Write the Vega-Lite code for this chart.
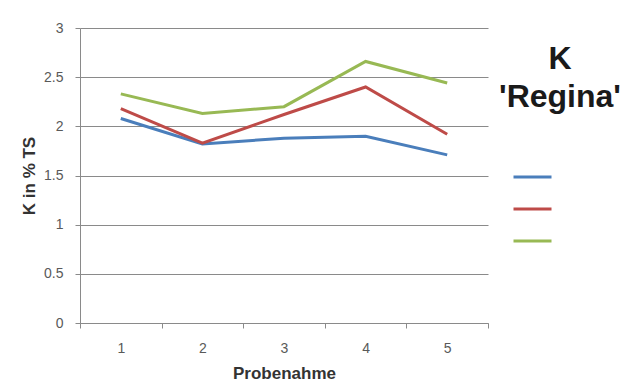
{
  "$schema": "https://vega.github.io/schema/vega-lite/v6.json",
  "width": 408,
  "height": 295,
  "autosize": {"type": "none"},
  "padding": {"left": 80, "top": 28, "right": 136, "bottom": 61},
  "background": "white",
  "config": {"view": {"stroke": null}, "font": "Liberation Sans"},
  "title": {
    "text": ["K", "'Regina'"],
    "orient": "top",
    "anchor": "end",
    "frame": "group",
    "align": "center",
    "dx": 72,
    "dy": 97,
    "fontSize": 32,
    "fontWeight": "bold",
    "lineHeight": 38,
    "color": "#1a1a1a",
    "font": "Liberation Sans"
  },
  "data": {
    "values": [
      {"Probenahme": "1", "Serie": "A", "K": 2.08},
      {"Probenahme": "2", "Serie": "A", "K": 1.82},
      {"Probenahme": "3", "Serie": "A", "K": 1.88},
      {"Probenahme": "4", "Serie": "A", "K": 1.90},
      {"Probenahme": "5", "Serie": "A", "K": 1.71},
      {"Probenahme": "1", "Serie": "B", "K": 2.18},
      {"Probenahme": "2", "Serie": "B", "K": 1.83},
      {"Probenahme": "3", "Serie": "B", "K": 2.12},
      {"Probenahme": "4", "Serie": "B", "K": 2.40},
      {"Probenahme": "5", "Serie": "B", "K": 1.92},
      {"Probenahme": "1", "Serie": "C", "K": 2.33},
      {"Probenahme": "2", "Serie": "C", "K": 2.13},
      {"Probenahme": "3", "Serie": "C", "K": 2.20},
      {"Probenahme": "4", "Serie": "C", "K": 2.66},
      {"Probenahme": "5", "Serie": "C", "K": 2.44}
    ]
  },
  "mark": {"type": "line", "strokeWidth": 3},
  "encoding": {
    "x": {
      "field": "Probenahme",
      "type": "ordinal",
      "bandPosition": 0.5,
      "scale": {"type": "band", "paddingInner": 0, "paddingOuter": 0},
      "axis": {
        "title": "Probenahme",
        "titleFontSize": 17,
        "titleFontWeight": "bold",
        "titleColor": "#333333",
        "titlePadding": 10,
        "labelAngle": 0,
        "labelFontSize": 14,
        "labelColor": "#595959",
        "labelPadding": 13,
        "tickBand": "extent",
        "tickSize": 5,
        "tickColor": "#8a8a8a",
        "domainColor": "#8a8a8a",
        "grid": false
      }
    },
    "y": {
      "field": "K",
      "type": "quantitative",
      "scale": {"domain": [0, 3]},
      "axis": {
        "title": "K in % TS",
        "titleFontSize": 17,
        "titleFontWeight": "bold",
        "titleColor": "#333333",
        "titlePadding": 5,
        "values": [0, 0.5, 1, 1.5, 2, 2.5, 3],
        "format": "~g",
        "labelFontSize": 14,
        "labelColor": "#595959",
        "labelPadding": 12,
        "tickSize": 5,
        "tickColor": "#8a8a8a",
        "domainColor": "#8a8a8a",
        "grid": true,
        "gridColor": "#8a8a8a"
      }
    },
    "color": {
      "field": "Serie",
      "type": "nominal",
      "scale": {"domain": ["A", "B", "C"], "range": ["#4a7ebb", "#be4b48", "#98b954"]},
      "legend": {
        "orient": "none",
        "legendX": 432,
        "legendY": 141,
        "title": null,
        "symbolType": "stroke",
        "symbolSize": 1444,
        "symbolStrokeWidth": 3,
        "clipHeight": 16,
        "rowPadding": 16,
        "padding": 0,
        "labelExpr": "''"
      }
    }
  }
}
